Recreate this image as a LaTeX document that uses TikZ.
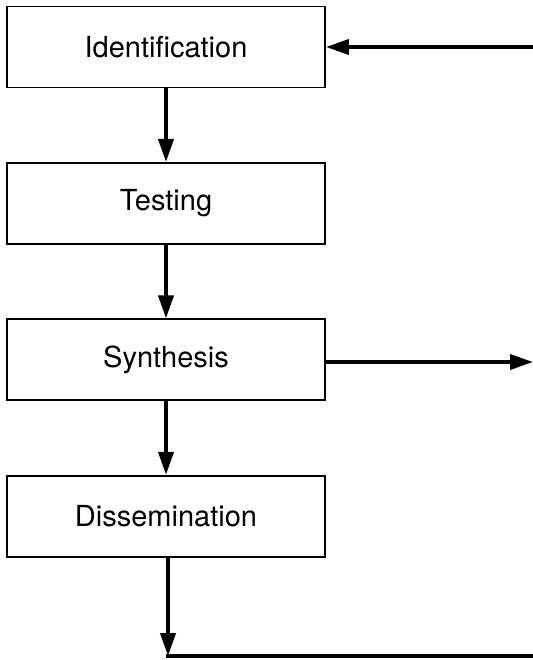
\documentclass[tikz,border=0pt]{standalone}
\usepackage{fontspec}
\setmainfont{TeX Gyre Heros}
\usetikzlibrary{arrows.meta,positioning}
\tikzset{
    % Plain boxes
    stage/.style={
        rectangle,
        draw=black,
        line width=1.1pt,
        fill=white,
        minimum width=6.36cm,
        minimum height=1.62cm,
        align=center,
        font=\fontsize{16.5}{20}\selectfont
    },
    flow/.style={
        -{Triangle[length=0.46cm,width=0.3cm]},
        line width=2.2pt,
        color=black
    },
    flow plain/.style={
        line width=2.2pt,
        color=black
    }
}
\begin{document}
\begin{tikzpicture}[node distance=1.47cm]
        \useasboundingbox (0,0) rectangle (10.66,-13.2);

        % Stages
        \node[stage] (ident) at (3.32,-0.94) {Identification};
        \node[stage, below=of ident] (test) {Testing};
        \node[stage, below=of test] (synth) {Synthesis};
        \node[stage, below=of synth] (dissem) {Dissemination};

        % Free ends
        \coordinate (feedin) at (10.66,-0.94);
        \coordinate (out) at (10.66,-7.24);
        \coordinate (corner) at (3.36,-13.12);
        \coordinate (loopend) at (10.66,-13.12);

        % Arrows
        \draw[flow] (ident) -- (test);
        \draw[flow] (test) -- (synth);
        \draw[flow] (synth) -- (dissem);
        \draw[flow] (synth.east |- out) -- (out);
        \draw[flow] (feedin) -- (ident.east |- feedin);
        \draw[flow] (dissem.south -| corner) -- (corner);
        \draw[flow plain] ([xshift=-1.1pt]corner) -- (loopend);
    \end{tikzpicture}
\end{document}
